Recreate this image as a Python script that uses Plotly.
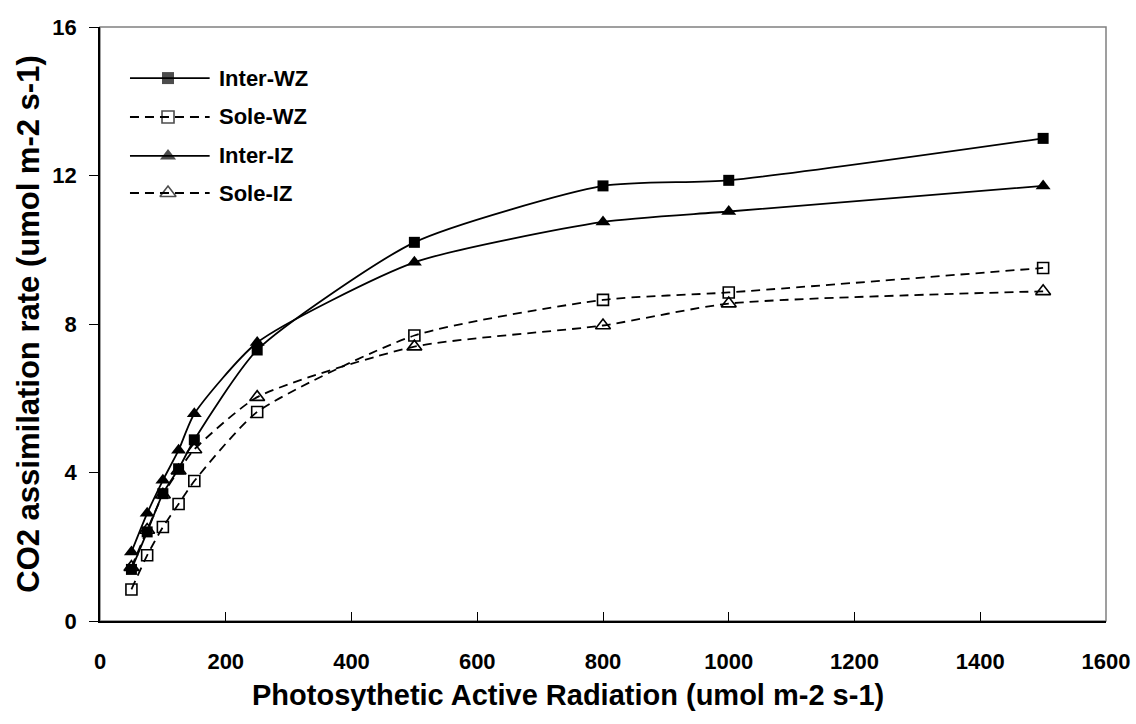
import plotly.graph_objects as go

par = [50, 75, 100, 125, 150, 250, 500, 800, 1000, 1500]
inter_wz = [1.39, 2.40, 3.43, 4.10, 4.88, 7.30, 10.20, 11.72, 11.87, 13.00]
sole_wz = [0.85, 1.77, 2.53, 3.15, 3.77, 5.63, 7.69, 8.65, 8.85, 9.51]
inter_iz = [1.86, 2.90, 3.79, 4.60, 5.58, 7.50, 9.66, 10.75, 11.03, 11.72]
sole_iz = [1.45, 2.45, 3.40, 4.05, 4.62, 6.03, 7.39, 7.96, 8.55, 8.88]

names = ["Inter-WZ", "Sole-WZ", "Inter-IZ", "Sole-IZ"]
series = [inter_wz, sole_wz, inter_iz, sole_iz]
symbols = ["square", "square-open", "triangle-up", "triangle-up-open"]
dashes = ["solid", "9px,6px", "solid", "9px,6px"]
sizes = [11, 11, 13, 13]

x_title = "Photosythetic Active Radiation (umol m-2 s-1)"
y_title = "CO2 assimilation rate (umol m-2 s-1)"

font_fam = "Liberation Sans, Arial, sans-serif"

def marker_style(i, size):
    open_ = "open" in symbols[i]
    return dict(symbol=symbols[i], size=size, color="black",
                line=dict(color="black", width=1.6 if open_ else 0))

fig = go.Figure()
draw_order = [3, 1, 2, 0]
for i in draw_order:
    fig.add_trace(go.Scatter(
        x=par, y=series[i], name=names[i], mode="lines+markers",
        line=dict(color="black", width=1.8, dash=dashes[i], shape="spline", smoothing=0.6),
        marker=marker_style(i, sizes[i]), showlegend=False,
    ))

# custom legend (overlay axes spanning the plot area)
leg_y = [0.914, 0.8485, 0.783, 0.7205]
lx0, lxm, lx1, ltx = 0.0298, 0.0676, 0.109, 0.1163
for i in range(4):
    fig.add_trace(go.Scatter(
        x=[lx0, lxm, lx1], y=[leg_y[i]] * 3, xaxis="x2", yaxis="y2",
        mode="lines+markers",
        line=dict(color="black", width=1.8, dash=dashes[i]),
        marker=dict(symbol=symbols[i], size=[0, sizes[i] + 1, 0], color="black",
                    line=dict(color="black", width=1.6 if "open" in symbols[i] else 0)),
        showlegend=False, hoverinfo="skip",
    ))
    fig.add_annotation(x=ltx, y=leg_y[i], xref="x2", yref="y2", text=names[i],
                       showarrow=False, xanchor="left", yanchor="middle",
                       font=dict(size=22, family=font_fam, color="black", weight="bold"))

fig.add_annotation(x=0.465, y=-0.1246, xref="paper", yref="paper", text=x_title,
                   showarrow=False, xanchor="center", yanchor="middle",
                   font=dict(size=29, family=font_fam, color="black", weight="bold"))

fig.update_layout(
    width=1136, height=724,
    margin=dict(l=100, r=30, t=27, b=103),
    paper_bgcolor="white", plot_bgcolor="white",
    font=dict(family=font_fam, color="black"),
    showlegend=False,
    xaxis=dict(
        range=[0, 1600], dtick=200, tick0=0, showgrid=False, zeroline=False,
        showline=True, linecolor="black", linewidth=1.5, automargin=False,
        ticks="inside", ticklen=9, tickcolor="black", tickwidth=1,
        tickfont=dict(size=22, family=font_fam, weight="bold"),
        ticklabelstandoff=20,
    ),
    yaxis=dict(
        range=[0, 16], dtick=4, tick0=0, showgrid=False, zeroline=False,
        showline=True, linecolor="black", linewidth=1.5, automargin=False,
        ticks="outside", ticklen=9, tickcolor="black", tickwidth=1,
        tickfont=dict(size=22, family=font_fam, weight="bold"),
        ticklabelstandoff=8,
        title=dict(text=y_title,
                   font=dict(size=31, family=font_fam, weight="bold"), standoff=4),
    ),
    xaxis2=dict(overlaying="x", range=[0, 1], visible=False, fixedrange=True),
    yaxis2=dict(overlaying="y", range=[0, 1], visible=False, fixedrange=True),
    shapes=[dict(type="rect", xref="paper", yref="paper", x0=0, y0=0, x1=1, y1=1,
                 line=dict(color="#808080", width=1.5), layer="below")],
)

fig.write_html("out.html")
